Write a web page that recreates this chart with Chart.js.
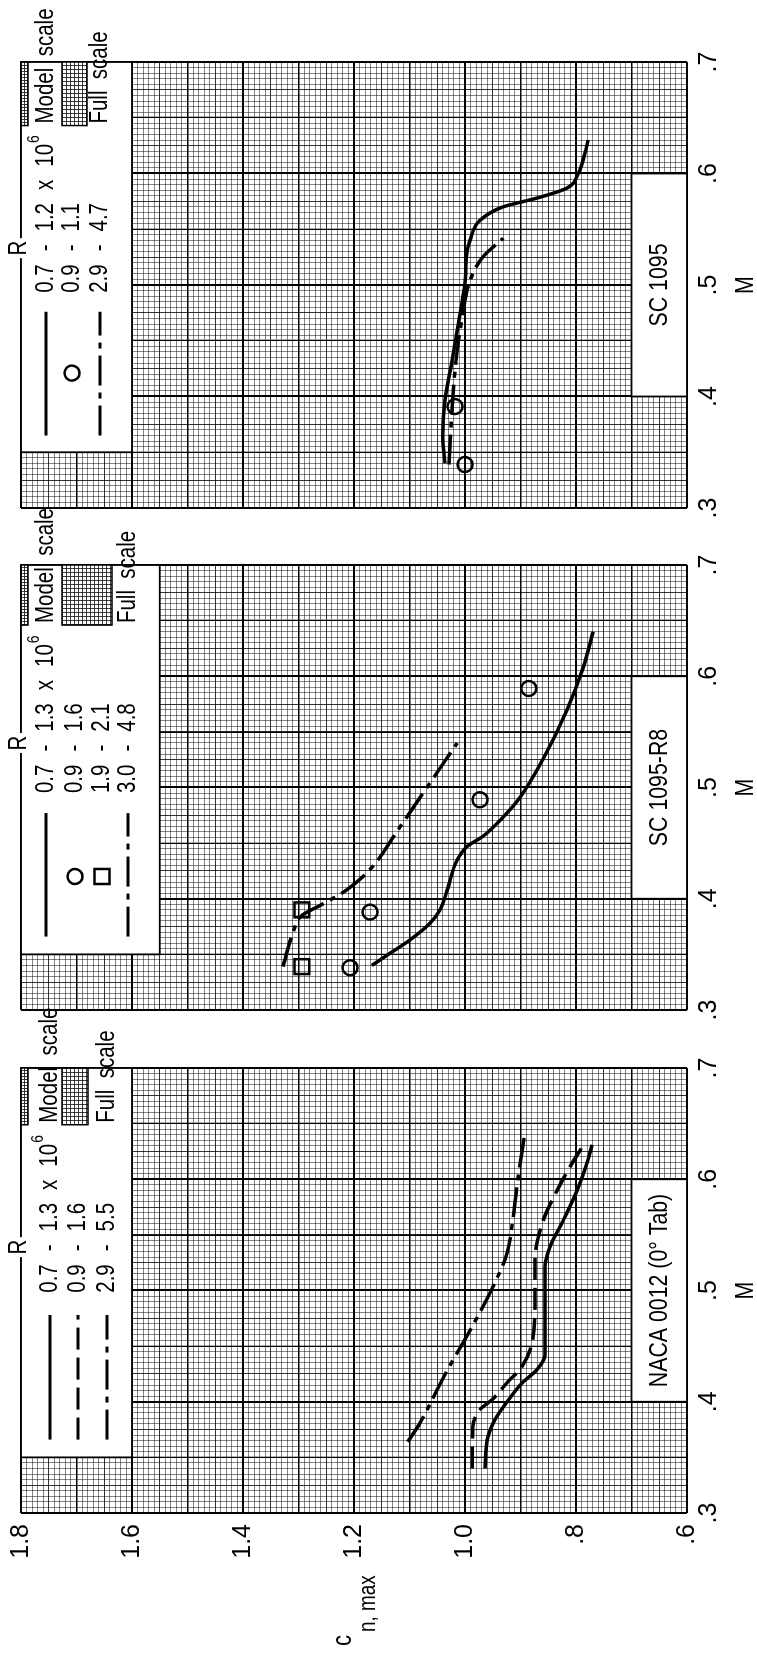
<!DOCTYPE html>
<html>
<head>
<meta charset="utf-8">
<script src="https://cdn.jsdelivr.net/npm/chart.js@4.4.1/dist/chart.umd.min.js"></script>
<style>
  html, body { margin: 0; padding: 0; background: #fff; overflow: hidden; }
  #page { position: relative; width: 757px; height: 1653px; }
  /* the figure is laid out landscape and turned a quarter turn, like the printed page */
  #fig { position: absolute; left: 0; top: 0; width: 1653px; height: 757px;
         transform-origin: 0 0; transform: translate(0, 1653px) rotate(-90deg); }
  #fig canvas { position: absolute; left: 0; top: 0; }
</style>
</head>
<body>
<div id="page"><div id="fig">
  <canvas id="p3" width="1653" height="757"></canvas>
  <canvas id="p2" width="1653" height="757"></canvas>
  <canvas id="p1" width="1653" height="757"></canvas>
</div></div>
<script>
// ---------- tick labels ----------
var mTickVals  = [0.3, 0.4, 0.5, 0.6, 0.7];
var mTickText  = ['.3', '.4', '.5', '.6', '.7'];
var cnTickVals = [0.6, 0.8, 1.0, 1.2, 1.4, 1.6, 1.8];
var cnTickText = ['.6', '.8', '1.0', '1.2', '1.4', '1.6', '1.8'];

// ---------- NACA 0012 (0° Tab) ----------
var nacaRanges = ['0.7 - 1.3', '0.9 - 1.6', '2.9 - 5.5'];
var nacaR1M  = [0.340, 0.366, 0.384, 0.400, 0.417, 0.429, 0.442, 0.491, 0.521, 0.539, 0.563, 0.590, 0.615, 0.631];
var nacaR1Cn = [0.964, 0.960, 0.946, 0.924, 0.897, 0.870, 0.856, 0.856, 0.856, 0.847, 0.823, 0.798, 0.780, 0.771];
var nacaR2M  = [0.340, 0.377, 0.393, 0.402, 0.420, 0.429, 0.456, 0.491, 0.527, 0.563, 0.590, 0.611, 0.629];
var nacaR2Cn = [0.987, 0.986, 0.973, 0.951, 0.919, 0.901, 0.878, 0.874, 0.874, 0.859, 0.834, 0.811, 0.789];
var nacaR3M  = [0.364, 0.381, 0.411, 0.429, 0.464, 0.503, 0.534, 0.563, 0.599, 0.642];
var nacaR3Cn = [1.103, 1.081, 1.050, 1.031, 0.991, 0.950, 0.924, 0.914, 0.905, 0.892];

// ---------- SC 1095-R8 ----------
var r8Ranges = ['0.7 - 1.3', '0.9 - 1.6', '1.9 - 2.1', '3.0 - 4.8'];
var r8R1M  = [0.340, 0.351, 0.363, 0.378, 0.390, 0.408, 0.435, 0.447, 0.456, 0.473, 0.491, 0.525, 0.570, 0.608, 0.640];
var r8R1Cn = [1.168, 1.135, 1.099, 1.063, 1.045, 1.032, 1.014, 0.996, 0.968, 0.932, 0.901, 0.860, 0.816, 0.787, 0.769];
var r8R2M  = [0.338, 0.388, 0.489, 0.589];
var r8R2Cn = [1.207, 1.171, 0.973, 0.885];
var r8R3M  = [0.339, 0.390];
var r8R3Cn = [1.294, 1.294];
var r8R4M  = [0.339, 0.369, 0.385, 0.394, 0.408, 0.428, 0.458, 0.491, 0.540];
var r8R4Cn = [1.328, 1.310, 1.294, 1.261, 1.213, 1.168, 1.126, 1.081, 1.014];

// ---------- SC 1095 ----------
var scRanges = ['0.7 - 1.2', '0.9 - 1.1', '2.9 - 4.7'];
var scR1M  = [0.340, 0.364, 0.397, 0.433, 0.462, 0.502, 0.531, 0.540, 0.558, 0.570, 0.578, 0.587, 0.600, 0.618, 0.630];
var scR1Cn = [1.036, 1.040, 1.036, 1.023, 1.013, 1.000, 0.996, 0.991, 0.973, 0.932, 0.870, 0.816, 0.796, 0.784, 0.778];
var scR2M  = [0.339, 0.391];
var scR2Cn = [1.000, 1.018];
var scR3M  = [0.339, 0.391, 0.433, 0.471, 0.504, 0.525, 0.542];
var scR3Cn = [1.029, 1.023, 1.016, 1.005, 0.991, 0.968, 0.931];

// ---------- look ----------
var W = 1653, H = 757, TOP = 21, BOTTOM = 687;
var XAXIS_H = 50, YAXIS_W = 80;
var FONT = '"Liberation Sans", Arial, sans-serif';
var SQ = 0.82;          // lettering on the original is condensed
var DASH = [22, 8];
var DASHDOT = [30, 7, 6, 7];
var GAP = 13;
Chart.defaults.color = '#000';
Chart.defaults.font.family = FONT;

function font(size) { return size + 'px ' + FONT; }
function pts(m, cn) { return m.map(function (v, i) { return { x: v, y: cn[i] }; }); }
function onStep(v, step) { return Math.abs(v / step - Math.round(v / step)) < 1e-6; }
function lookup(v, vals, text) {
  for (var i = 0; i < vals.length; i++) if (Math.abs(vals[i] - v) < 1e-6) return text[i];
  return '';
}
function tickList(min, max, step) {
  var out = [], n = Math.round((max - min) / step);
  for (var i = 0; i <= n; i++) out.push({ value: +(min + i * step).toFixed(4) });
  return out;
}
function fitTo(size) {
  return function (scale) {
    if (scale.isHorizontal()) scale.height = size; else scale.width = size;
    scale.paddingLeft = scale.paddingRight = scale.paddingTop = scale.paddingBottom = 0;
  };
}
// condensed text, returns the drawn width
function ntext(ctx, s, x, y, size, align) {
  ctx.save();
  ctx.font = font(size);
  ctx.textAlign = align || 'left';
  ctx.textBaseline = 'middle';
  ctx.fillStyle = '#000';
  var w = ctx.measureText(s).width * SQ;
  ctx.translate(x, y);
  ctx.scale(SQ, 1);
  ctx.fillText(s, 0, 0);
  ctx.restore();
  return w;
}

function curve(m, cn, dash) {
  return { data: pts(m, cn), showLine: true, borderColor: '#000', borderWidth: 3.5,
           borderDash: dash || [], pointRadius: 0, cubicInterpolationMode: 'monotone',
           xAxisID: 'x', yAxisID: 'y' };
}
function marks(m, cn, style) {
  return { data: pts(m, cn), showLine: false, pointStyle: style,
           pointRadius: style === 'rect' ? 10.5 : 7.5, borderWidth: 2.5,
           borderColor: '#000', backgroundColor: 'rgba(0,0,0,0)', xAxisID: 'x', yAxisID: 'y' };
}

function gridAxis(axis, min, max, step, color, z) {
  return {
    type: 'linear', axis: axis, position: axis === 'x' ? 'bottom' : 'left', min: min, max: max,
    afterBuildTicks: function (s) { s.ticks = tickList(min, max, step); },
    afterFit: fitTo(0),
    ticks: { display: false },
    border: { display: false },
    grid: { color: color, lineWidth: 1, drawTicks: false, z: z }
  };
}

function whiteBox(ctx, x1, y1, x2, y2) {
  ctx.fillStyle = '#fff';
  ctx.fillRect(x1, y1, x2 - x1, y2 - y1);
  ctx.strokeStyle = '#000';
  ctx.lineWidth = 1.8;
  ctx.setLineDash([]);
  ctx.strokeRect(x1, y1, x2 - x1, y2 - y1);
}
function swatch(ctx, x1, y1, x2, y2, step) {
  ctx.fillStyle = '#fff';
  ctx.fillRect(x1, y1, x2 - x1, y2 - y1);
  ctx.strokeStyle = 'rgba(0,0,0,0.75)';
  ctx.lineWidth = 1;
  ctx.beginPath();
  for (var x = x1; x <= x2; x += step) { ctx.moveTo(Math.round(x) + 0.5, y1); ctx.lineTo(Math.round(x) + 0.5, y2); }
  for (var y = y1; y <= y2; y += step) { ctx.moveTo(x1, Math.round(y) + 0.5); ctx.lineTo(x2, Math.round(y) + 0.5); }
  ctx.stroke();
  ctx.lineWidth = 1.5;
  ctx.strokeStyle = '#000';
  ctx.strokeRect(x1, y1, x2 - x1, y2 - y1);
}

function deco(p) {
  return {
    id: 'deco_' + p.id,
    beforeDatasetsDraw: function (chart) {
      var ctx = chart.ctx, xs = chart.scales.x, ys = chart.scales.y;
      var px = function (v) { return xs.getPixelForValue(v); };
      var py = function (v) { return ys.getPixelForValue(v); };
      var top = py(1.8);
      ctx.save();
      whiteBox(ctx, px(0.35), top, px(0.7), py(p.legendCn));
      whiteBox(ctx, px(0.4), py(0.7), px(0.6), py(0.6));
      ntext(ctx, p.title, px(0.5), (py(0.7) + py(0.6)) / 2 + 1, 26, 'center');

      // R header sitting on the frame
      var rx = px(p.rM);
      ctx.fillStyle = '#fff';
      ctx.fillRect(rx - 10, top - 6, 20, 12);
      ntext(ctx, 'R', rx, top - 2, 25, 'center');

      // legend rows
      p.rows.forEach(function (r, i) {
        var y = top + p.rowY[i];
        ctx.strokeStyle = '#000';
        ctx.lineWidth = 3;
        if (r.kind === 'line') {
          ctx.setLineDash(r.dash);
          ctx.beginPath();
          ctx.moveTo(px(p.sampleM[0]), y);
          ctx.lineTo(px(p.sampleM[1]), y);
          ctx.stroke();
          ctx.setLineDash([]);
        } else if (r.kind === 'circle') {
          ctx.lineWidth = 2.5;
          ctx.beginPath();
          ctx.arc(px(p.markM), y, 7.5, 0, Math.PI * 2);
          ctx.stroke();
        } else if (r.kind === 'square') {
          ctx.lineWidth = 2.5;
          ctx.strokeRect(px(p.markM) - 7.5, y - 7.5, 15, 15);
        }
        var x = px(p.textM);
        var toks = p.ranges[i].split(' ');
        if (i === 0) toks = toks.concat(['x', '10']);
        toks.forEach(function (t) { x += ntext(ctx, t, x, y, 25) + GAP; });
        if (i === 0) ntext(ctx, '6', x - GAP + 1, y - 12, 17);
      });

      // model / full scale key
      var sx1 = px(p.swM), sx2 = px(0.7);
      swatch(ctx, sx1, top, sx2, top + 7, 3);
      swatch(ctx, sx1, top + p.fullBox[0], sx2, top + p.fullBox[1], 4);
      ntext(ctx, 'Model  scale', sx1 + 2, top + p.rowY[0], 25);
      ntext(ctx, 'Full  scale', sx1 + 2, top + p.rowY[p.rowY.length - 1], 25);
      ctx.restore();
    },
    afterDraw: function (chart) {
      var ctx = chart.ctx, xs = chart.scales.x;
      ntext(ctx, 'M', xs.getPixelForValue(0.5), 746, 26, 'center');
      if (p.cnTitle) {
        ntext(ctx, 'c', 7, 344, 27);
        ntext(ctx, 'n, max', 21, 369, 23);
      }
    }
  };
}

var panels = [
  { id: 'p1', x0: 140, x1: 585, title: 'NACA 0012 (0\u00b0 Tab)', cnTitle: true, legendCn: 1.6,
    ranges: nacaRanges,
    rows: [{ kind: 'line', dash: [] }, { kind: 'line', dash: DASH }, { kind: 'line', dash: DASHDOT }],
    rowY: [29, 57, 86], sampleM: [0.366, 0.478], markM: 0.42, textM: 0.498, rM: 0.539,
    swM: 0.649, fullBox: [41, 67],
    datasets: [curve(nacaR1M, nacaR1Cn), curve(nacaR2M, nacaR2Cn, DASH), curve(nacaR3M, nacaR3Cn, DASHDOT)] },
  { id: 'p2', x0: 643, x1: 1088, title: 'SC 1095-R8', cnTitle: false, legendCn: 1.55,
    ranges: r8Ranges,
    rows: [{ kind: 'line', dash: [] }, { kind: 'circle' }, { kind: 'square' }, { kind: 'line', dash: DASHDOT }],
    rowY: [25, 54, 81, 107], sampleM: [0.366, 0.477], markM: 0.42, textM: 0.495, rM: 0.540,
    swM: 0.646, fullBox: [41, 91],
    datasets: [curve(r8R1M, r8R1Cn), marks(r8R2M, r8R2Cn, 'circle'), marks(r8R3M, r8R3Cn, 'rect'),
               curve(r8R4M, r8R4Cn, DASHDOT)] },
  { id: 'p3', x0: 1145, x1: 1591, title: 'SC 1095', cnTitle: false, legendCn: 1.6,
    ranges: scRanges,
    rows: [{ kind: 'line', dash: [] }, { kind: 'circle' }, { kind: 'line', dash: DASHDOT }],
    rowY: [25, 51, 79], sampleM: [0.365, 0.476], markM: 0.421, textM: 0.493, rM: 0.533,
    swM: 0.643, fullBox: [41, 66],
    datasets: [curve(scR1M, scR1Cn), marks(scR2M, scR2Cn, 'circle'), curve(scR3M, scR3Cn, DASHDOT)] }
];

panels.forEach(function (p) {
  var yw = p.cnTitle ? YAXIS_W : 0;
  new Chart(document.getElementById(p.id), {
    type: 'scatter',
    data: { datasets: p.datasets },
    options: {
      responsive: false,
      animation: false,
      devicePixelRatio: 1,
      events: [],
      layout: { padding: { left: p.x0 - yw, right: W - p.x1, top: TOP, bottom: H - BOTTOM - XAXIS_H } },
      plugins: { legend: { display: false }, tooltip: { enabled: false } },
      scales: {
        x: {
          type: 'linear', position: 'bottom', min: 0.3, max: 0.7,
          afterBuildTicks: function (s) { s.ticks = tickList(0.3, 0.7, 0.05); },
          afterFit: fitTo(XAXIS_H),
          border: { display: false },
          grid: { color: '#000', drawTicks: false, z: -1,
                  lineWidth: function (c) { return c.tick && onStep(c.tick.value, 0.1) ? 2 : 1.3; } },
          ticks: { autoSkip: false, maxRotation: 0, padding: 7, font: { size: 25 },
                   callback: function (v) { return lookup(v, mTickVals, mTickText); } }
        },
        y: {
          type: 'linear', position: 'left', min: 0.6, max: 1.8,
          afterBuildTicks: function (s) { s.ticks = tickList(0.6, 1.8, 0.1); },
          afterFit: fitTo(yw),
          border: { display: false },
          grid: { color: '#000', drawTicks: false, z: -1,
                  lineWidth: function (c) { return c.tick && onStep(c.tick.value, 0.2) ? 2 : 1.4; } },
          ticks: { display: p.cnTitle, autoSkip: false, padding: 11, font: { size: 25 },
                   callback: function (v) { return lookup(v, cnTickVals, cnTickText); } }
        },
        xf: gridAxis('x', 0.3, 0.7, 0.005, 'rgba(0,0,0,0.48)', -3),
        xm: gridAxis('x', 0.3, 0.7, 0.025, 'rgba(0,0,0,0.62)', -2),
        yf: gridAxis('y', 0.6, 1.8, 0.01, 'rgba(0,0,0,0.48)', -3),
        ym: gridAxis('y', 0.6, 1.8, 0.05, 'rgba(0,0,0,0.62)', -2)
      }
    },
    plugins: [deco(p)]
  });
});
</script>
</body>
</html>
